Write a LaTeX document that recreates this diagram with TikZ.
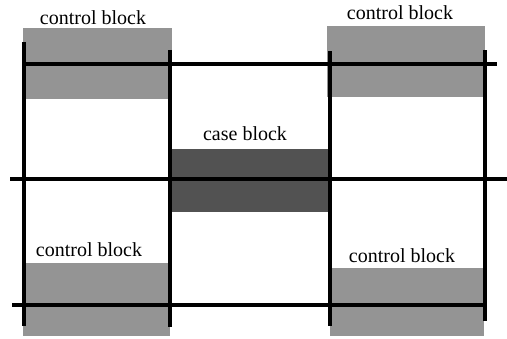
\documentclass[tikz,border=0pt]{standalone}
\usepackage{fontspec}
\setmainfont{Liberation Serif}
\usetikzlibrary{positioning}

\begin{document}
\begin{tikzpicture}[x=0.5pt,y=-0.5pt,
    ctrlblock/.style={fill=black!42},
    caseblock/.style={fill=black!68},
    wire/.style={line width=2.4pt},
    lbl/.style={font=\fontsize{10}{12}\selectfont,inner sep=0pt,anchor=base}]
  \useasboundingbox (0,0) rectangle (507,338);

  % shaded blocks
  \fill[ctrlblock] (23,28) rectangle (172,99);
  \fill[ctrlblock] (327,26) rectangle (485,97);
  \fill[ctrlblock] (23,263) rectangle (170,336);
  \fill[ctrlblock] (330,268) rectangle (484,336);
  \fill[caseblock] (172,149) rectangle (328,212);

  % labels
  \node[lbl] (ctltl) at (93,24) {control block};
  \node[lbl] (ctltr) at (400,19) {control block};
  \node[lbl] (case) at (245,140) {case block};
  \node[lbl] (ctlbl) at (89,256) {control block};
  \node[lbl] (ctlbr) at (402,262) {control block};

  % vertical lines
  \draw[wire] (24,42) -- (24,326);
  \draw[wire] (170,50) -- (170,327);
  \draw[wire] (330,51) -- (330,326);
  \draw[wire] (485,50) -- (485,321);

  % horizontal lines
  \draw[wire] (24,64) -- (497,64);
  \draw[wire] (10,179) -- (507,179);
  \draw[wire] (12,305) -- (486,305);
\end{tikzpicture}
\end{document}
